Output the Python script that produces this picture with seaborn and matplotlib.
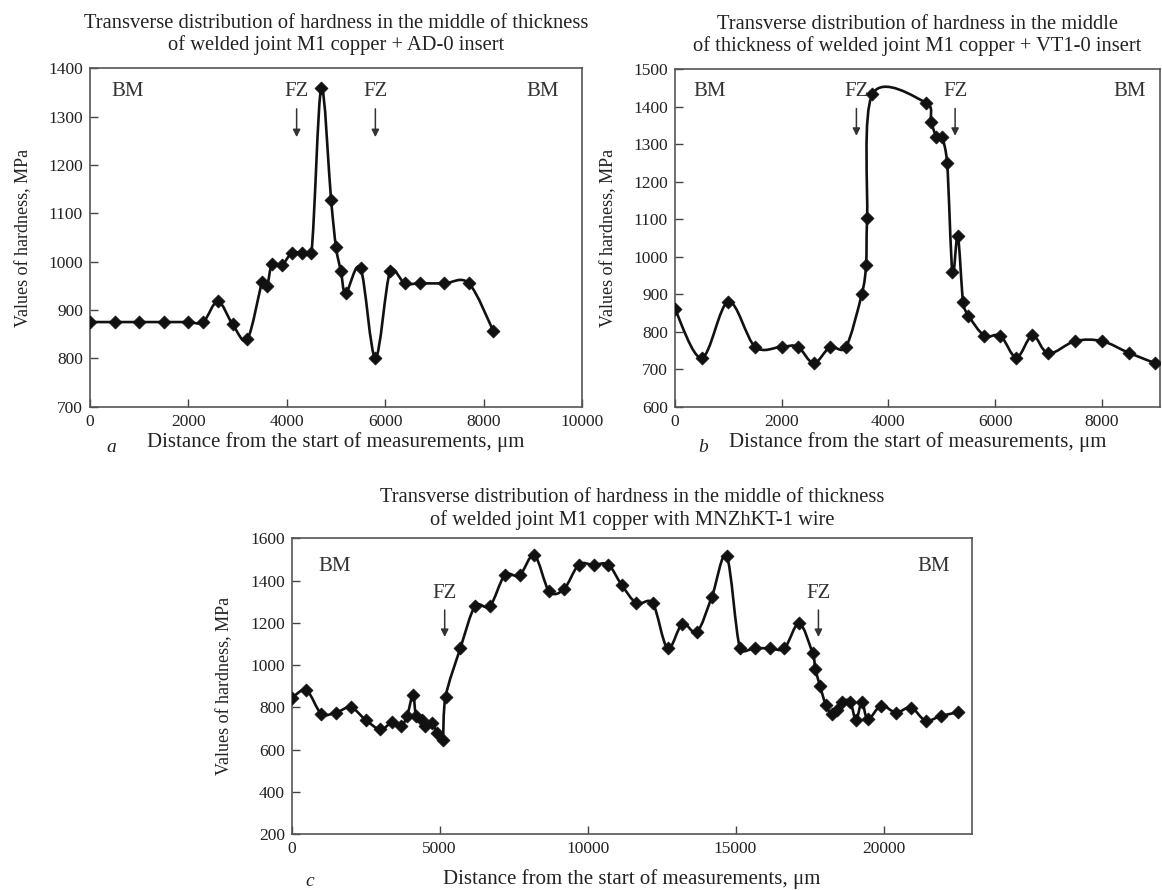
import numpy as np
import matplotlib
matplotlib.use("Agg")
import matplotlib.pyplot as plt
import seaborn as sns
from matplotlib.path import Path
from matplotlib.patches import PathPatch

# ---- data ----
# (a) M1 copper + AD-0 insert
dist_a = [0, 500, 1000, 1500, 2000, 2300, 2600, 2900, 3200, 3500, 3600, 3700,
          3900, 4100, 4300, 4500, 4700, 4900, 5000, 5100, 5200, 5500, 5800,
          6100, 6400, 6700, 7200, 7700, 8200]
hard_a = [875, 875, 875, 875, 875, 875, 918, 870, 840, 958, 950, 995,
          993, 1018, 1018, 1018, 1360, 1128, 1030, 980, 935, 986, 801,
          980, 955, 955, 955, 955, 856]

# (b) M1 copper + VT1-0 insert
dist_b = [0, 500, 1000, 1500, 2000, 2300, 2600, 2900, 3200, 3500, 3580, 3600,
          3700, 4700, 4800, 4900, 5000, 5100, 5200, 5300, 5400, 5500, 5800,
          6100, 6400, 6700, 7000, 7500, 8000, 8500, 9000]
hard_b = [860, 730, 880, 760, 760, 760, 716, 758, 758, 900, 978, 1102,
          1433, 1411, 1360, 1320, 1320, 1251, 958, 1055, 878, 843, 789,
          789, 731, 790, 742, 775, 775, 744, 716]

# (c) M1 copper with MNZhKT-1 wire
dist_c = [0, 500, 1000, 1500, 2000, 2500, 3000, 3400, 3700, 3900, 4100, 4200,
          4400, 4500, 4750, 4900, 5100, 5200, 5700, 6200, 6700, 7200, 7700,
          8200, 8700, 9200, 9700, 10200, 10700, 11150, 11650, 12200, 12700,
          13200, 13700, 14200, 14700, 15150, 15650, 16150, 16650, 17150,
          17600, 17700, 17850, 18050, 18250, 18420, 18590, 18870, 19070,
          19270, 19470, 19920, 20420, 20930, 21420, 21940, 22500]
hard_c = [845, 880, 770, 775, 800, 740, 695, 730, 712, 760, 860, 760,
          740, 712, 724, 680, 645, 850, 1080, 1280, 1280, 1425, 1425,
          1520, 1350, 1360, 1475, 1475, 1475, 1380, 1293, 1293, 1080,
          1195, 1158, 1324, 1515, 1080, 1080, 1080, 1080, 1198,
          1056, 980, 903, 811, 768, 788, 827, 827, 740,
          827, 743, 808, 775, 799, 737, 759, 776]

titles = ["Transverse distribution of hardness in the middle of thickness\n"
          "of welded joint M1 copper + AD-0 insert",
          "Transverse distribution of hardness in the middle\n"
          "of thickness of welded joint M1 copper + VT1-0 insert",
          "Transverse distribution of hardness in the middle of thickness\n"
          "of welded joint M1 copper with MNZhKT-1 wire"]
xlabel = "Distance from the start of measurements, μm"
ylabel = "Values of hardness, MPa"

sns.set_theme(style="white")
plt.rcParams['font.family'] = ['Liberation Serif', 'DejaVu Serif']

W, H = 1162, 890
fig = plt.figure(figsize=(W / 100, H / 100), dpi=100)
TXT = '#222222'


def box(l, t, r, b):
    return [l / W, 1 - b / H, (r - l) / W, (b - t) / H]


def smooth_path(x, y, sx, sy):
    # Excel-like smoothed line: cubic Bezier through the data points
    pts = np.column_stack([np.asarray(x, float) * sx, np.asarray(y, float) * sy])
    n = len(pts)
    verts = [pts[0]]
    codes = [Path.MOVETO]
    for i in range(n - 1):
        p0 = pts[i - 1] if i > 0 else pts[i]
        p1, p2 = pts[i], pts[i + 1]
        p3 = pts[i + 2] if i + 2 < n else pts[i + 1]
        d12 = np.hypot(*(p2 - p1))
        d02 = np.hypot(*(p2 - p0))
        d13 = np.hypot(*(p3 - p1))
        f = min(1 / 6, d12 / (2 * d02)) if d02 > 0 else 0
        g = min(1 / 6, d12 / (2 * d13)) if d13 > 0 else 0
        verts += [p1 + (p2 - p0) * f, p2 - (p3 - p1) * g, p2]
        codes += [Path.CURVE4] * 3
    verts = np.array(verts) / [sx, sy]
    return Path(verts, codes)


def draw(ax, x, y, xlim, ylim, xticks, yticks, pix, xpad=2):
    ax.set_xlim(*xlim)
    ax.set_ylim(*ylim)
    sx = pix[0] / (xlim[1] - xlim[0])
    sy = pix[1] / (ylim[1] - ylim[0])
    ax.add_patch(PathPatch(smooth_path(x, y, sx, sy), fill=False,
                           edgecolor='#111111', lw=1.9, zorder=2))
    sns.scatterplot(x=x, y=y, ax=ax, marker='D', s=44, color='#111111',
                    edgecolor='#111111', linewidth=0.5, zorder=3)
    ax.set_xticks(xticks)
    ax.set_yticks(yticks)
    ax.tick_params(direction='in', length=6, width=1, colors='#444444',
                   labelcolor=TXT, labelsize=12.5, pad=5,
                   bottom=True, left=True, top=False, right=False)
    for sp in ax.spines.values():
        sp.set_color('#555555')
        sp.set_linewidth(1.2)
    ax.set_xlabel(xlabel, fontsize=15, color=TXT, labelpad=xpad)
    ax.set_ylabel(ylabel, fontsize=13, color=TXT, labelpad=12)


def mark(ax, x, y, txt, arrow=False, dy=0):
    ax.text(x, y, txt, ha='center', va='center', fontsize=15, color='#333333')
    if arrow:
        ax.annotate('', xy=(x, y - dy), xytext=(x, y - dy * 0.3),
                    arrowprops=dict(arrowstyle='-|>', color='#333333',
                                    lw=1.1, mutation_scale=11))


# ---- panel a ----
ax_a = fig.add_axes(box(90, 68.4, 582, 406.6))
draw(ax_a, dist_a, hard_a, (0, 10000), (700, 1400),
     np.arange(0, 10001, 2000), np.arange(700, 1401, 100), (492, 338.2))
mark(ax_a, 770, 1352, 'BM')
mark(ax_a, 9200, 1352, 'BM')
mark(ax_a, 4200, 1352, 'FZ', True, 100)
mark(ax_a, 5800, 1352, 'FZ', True, 100)
ax_a.set_title(titles[0], fontsize=14.8, color=TXT, pad=13, linespacing=1.15)

# ---- panel b ----
ax_b = fig.add_axes(box(675, 69.2, 1160, 406.7))
draw(ax_b, dist_b, hard_b, (0, 9090), (600, 1500),
     np.arange(0, 9001, 2000), np.arange(600, 1501, 100), (485, 337.5))
mark(ax_b, 656, 1440, 'BM')
mark(ax_b, 8530, 1440, 'BM')
mark(ax_b, 3400, 1440, 'FZ', True, 125)
mark(ax_b, 5250, 1440, 'FZ', True, 125)
ax_b.set_title(titles[1], fontsize=14.8, color=TXT, pad=13, linespacing=1.15)

# ---- panel c ----
ax_c = fig.add_axes(box(291.7, 538.4, 972.3, 834))
draw(ax_c, dist_c, hard_c, (0, 23000), (200, 1600),
     np.arange(0, 20001, 5000), np.arange(200, 1601, 200), (680.6, 295.6),
     xpad=9)
mark(ax_c, 1460, 1466, 'BM')
mark(ax_c, 21680, 1466, 'BM')
mark(ax_c, 5170, 1340, 'FZ', True, 220)
mark(ax_c, 17800, 1340, 'FZ', True, 220)
ax_c.set_title(titles[2], fontsize=14.8, color=TXT, pad=10, linespacing=1.15)

# panel letters
fig.text(106 / W, 1 - 447 / H, 'a', fontsize=14, style='italic', color=TXT, va='center')
fig.text(698 / W, 1 - 447 / H, 'b', fontsize=14, style='italic', color=TXT, va='center')
fig.text(305 / W, 1 - 882 / H, 'c', fontsize=14, style='italic', color=TXT, va='center')

fig.savefig('out.png', dpi=100)
